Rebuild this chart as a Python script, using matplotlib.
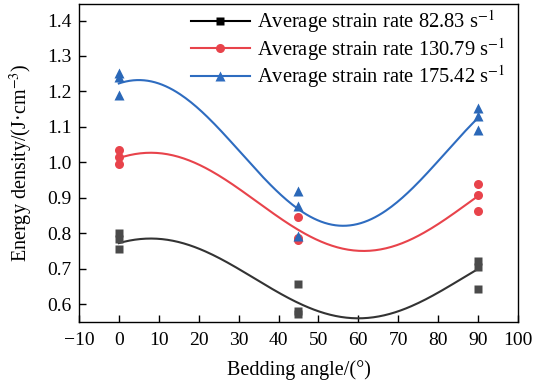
import numpy as np
import matplotlib
matplotlib.use("Agg")
import matplotlib.pyplot as plt

plt.rcParams['font.family'] = ['Liberation Serif', 'DejaVu Serif']
plt.rcParams['mathtext.fontset'] = 'stix'

# measured points
angle = [0, 0, 0, 45, 45, 45, 90, 90, 90]
e_low = [0.800, 0.785, 0.755, 0.657, 0.582, 0.573, 0.722, 0.706, 0.643]
e_mid = [1.036, 1.014, 0.994, 0.845, 0.787, 0.780, 0.940, 0.909, 0.863]
e_high = [1.252, 1.240, 1.190, 0.920, 0.878, 0.793, 1.152, 1.132, 1.090]

# sine fit parameters (y0, A, xc, w)
fit_low = (0.6725, 0.1125, 8, 52)
fit_mid = (0.8885, 0.1385, 8, 53.3)
fit_high = (1.0265, 0.2055, 5, 51.2)

labels = ['Average strain rate 82.83 s$^{-1}$',
          'Average strain rate 130.79 s$^{-1}$',
          'Average strain rate 175.42 s$^{-1}$']

def sine(x, p):
    y0, A, xc, w = p
    return y0 + A * np.cos(np.pi * (x - xc) / w)

fig = plt.figure(figsize=(5.33, 3.85), dpi=100)
ax = fig.add_axes([0.148, 0.164, 0.824, 0.826])

xs = np.linspace(0, 90, 200)
series = [
    (e_low, fit_low, '#4a4a4a', '#333333', 's', 6),
    (e_mid, fit_mid, '#e8434b', '#e8434b', 'o', 6.5),
    (e_high, fit_high, '#2b68b8', '#2e6cc0', '^', 7.5),
]
lc = ['black', '#e8434b', '#2e6cc0']
for (ys, p, mc, cc, mk, ms), lab, c in zip(series, labels, lc):
    ax.plot(xs, sine(xs, p), color=cc, lw=1.5)
    ax.plot(angle, ys, mk, color=mc, ms=ms, mec='none')
    ax.plot([], [], '-', marker=mk, color=c, ms=ms, lw=1.5, label=lab,
            mfc='black' if c == 'black' else c, mec='none')

ax.set_xlim(-10, 100)
ax.set_ylim(0.55, 1.447)
ax.set_xticks(np.arange(-10, 101, 10))
ax.set_yticks(np.arange(0.6, 1.41, 0.1))
ax.set_xticklabels([str(v).replace('-', '\u2212') for v in range(-10, 101, 10)])
ax.tick_params(direction='in', labelsize=14, length=5, width=1)
ax.tick_params(axis='x', pad=7)
ax.tick_params(axis='y', pad=5)
for s in ax.spines.values():
    s.set_linewidth(1)
ax.set_xlabel('Bedding angle/(°)', fontsize=14.5, labelpad=8)
ax.set_ylabel('Energy density/(J·cm$^{-3}$)', fontsize=14.5, labelpad=9)

ax.legend(loc='upper right', bbox_to_anchor=(1.0, 1.025), frameon=False, fontsize=14.8,
          handlelength=2.9, handletextpad=0.35, labelspacing=0.05, borderaxespad=0.2)

fig.savefig('out.png', dpi=100)
